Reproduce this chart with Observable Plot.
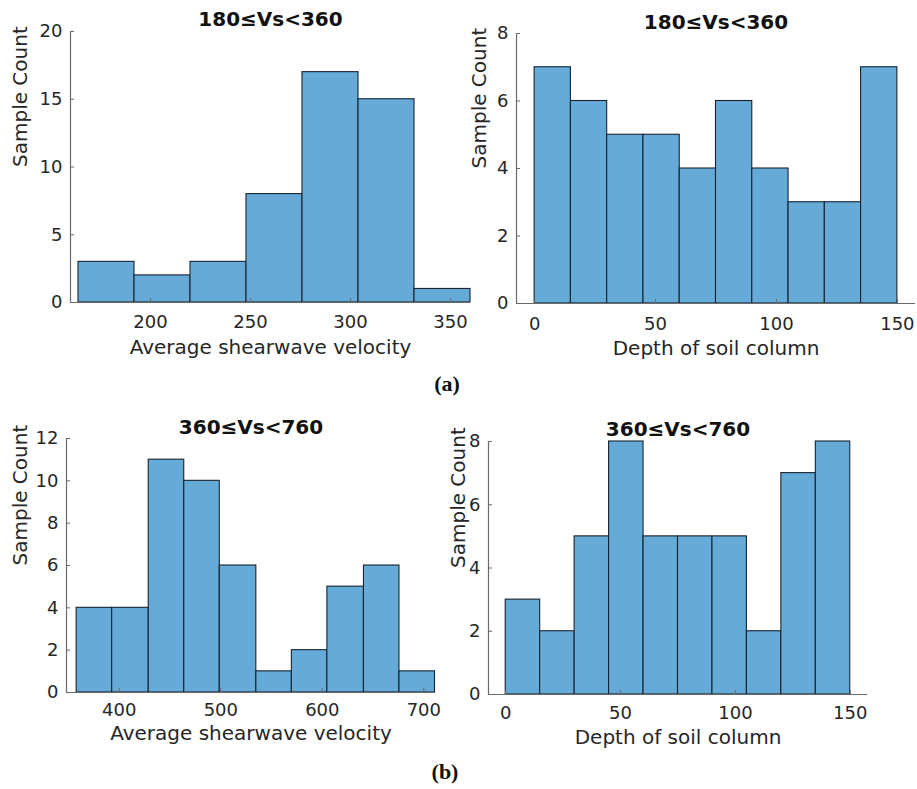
<!DOCTYPE html>
<html>
<head>
<meta charset="utf-8">
<script src="https://cdn.jsdelivr.net/npm/d3@7"></script>
<script src="https://cdn.jsdelivr.net/npm/@observablehq/plot@0.6"></script>
<style>
  html, body { margin: 0; padding: 0; background: #fff; }
  #root { position: relative; width: 917px; height: 789px; overflow: hidden; background: #fff; }
  .panel { position: absolute; }
  .caption { position: absolute; font-family: "Liberation Serif", "Times New Roman", serif; font-weight: bold; font-size: 22px; color: #111; transform: translate(-50%, -50%); }
</style>
</head>
<body>
<div id="root"></div>
<script>
// ---- data ----
const titleTop = "180\u2264Vs<360";
const titleBottom = "360\u2264Vs<760";
const xLabelVs = "Average shearwave velocity";
const xLabelDepth = "Depth of soil column";
const yLabel = "Sample Count";

const vsTopEdges = [164, 192, 220, 248, 276, 304, 332, 360];
const vsTopCounts = [3, 2, 3, 8, 17, 15, 1];
const depthTopEdges = [0, 15, 30, 45, 60, 75, 90, 105, 120, 135, 150];
const depthTopCounts = [7, 6, 5, 5, 4, 6, 4, 3, 3, 7];

const vsBotEdges = [358, 393, 429, 464, 499, 535, 570, 605, 641, 676, 711];
const vsBotCounts = [4, 4, 11, 10, 6, 1, 2, 5, 6, 1];
const depthBotEdges = [0, 15, 30, 45, 60, 75, 90, 105, 120, 135, 150];
const depthBotCounts = [3, 2, 5, 8, 5, 5, 5, 2, 7, 8];

const vsTopTicks = [200, 250, 300, 350];
const vsBotTicks = [400, 500, 600, 700];
const depthTicks = [0, 50, 100, 150];
const countTicks20 = [0, 5, 10, 15, 20];
const countTicks8 = [0, 2, 4, 6, 8];
const countTicks12 = [0, 2, 4, 6, 8, 10, 12];

const captions = ["(a)", "(b)"];

// ---- drawing ----
const FONT = "DejaVu Sans, Verdana, sans-serif";
const TXT = "#262626";
const AXIS = "#6b6b6b";
const FILL = "rgb(102,170,215)";
const EDGE = "#18232f";

function bins(edges, counts) {
  return counts.map((c, i) => ({x1: edges[i], x2: edges[i + 1], y: c}));
}

function panel(cfg) {
  const data = bins(cfg.edges, cfg.counts);
  return Plot.plot({
    width: cfg.width,
    height: cfg.height,
    marginLeft: cfg.ml, marginRight: cfg.mr, marginTop: cfg.mt, marginBottom: cfg.mb,
    style: {background: "transparent", overflow: "visible", fontFamily: FONT, color: TXT},
    x: {domain: cfg.xDomain},
    y: {domain: cfg.yDomain},
    marks: [
      Plot.rectY(data, {x1: "x1", x2: "x2", y1: 0, y2: "y", fill: FILL, stroke: EDGE, strokeWidth: 1.1}),
      Plot.ruleY([cfg.yDomain[0]], {stroke: AXIS, strokeWidth: 1.2}),
      Plot.ruleX([cfg.xDomain[0]], {stroke: AXIS, strokeWidth: 1.2}),
      Plot.axisX(cfg.xTicks, {tickSize: -4, stroke: AXIS, tickFormat: () => "", label: null}),
      Plot.axisY(cfg.yTicks, {tickSize: -4, stroke: AXIS, tickFormat: () => "", label: null}),
      Plot.axisX(cfg.xTicks, {tickSize: 0, tickPadding: cfg.xPad, fontSize: 18, fill: TXT, label: null}),
      Plot.axisY(cfg.yTicks, {tickSize: 0, tickPadding: 8, fontSize: 18, fill: TXT, label: null}),
      Plot.text([cfg.title], {frameAnchor: "top", lineAnchor: "middle", dy: cfg.titleDy, fontSize: 20, fontWeight: "bold", fill: "#111"}),
      Plot.text([cfg.xLabel], {frameAnchor: "bottom", lineAnchor: "middle", dy: cfg.xLabelDy, fontSize: 20, fill: TXT}),
      Plot.text([yLabel], {frameAnchor: "left", lineAnchor: "middle", dx: cfg.yLabelDx, rotate: -90, fontSize: 20, fill: TXT})
    ]
  });
}

const root = document.getElementById("root");
function place(el, left, top) {
  const d = document.createElement("div");
  d.className = "panel";
  d.style.left = left + "px";
  d.style.top = top + "px";
  d.appendChild(el);
  root.appendChild(d);
}

place(panel({
  width: 475, height: 370, ml: 70, mr: 5, mt: 31, mb: 68,
  xDomain: [160, 360], yDomain: [0, 20],
  edges: vsTopEdges, counts: vsTopCounts,
  xTicks: vsTopTicks, yTicks: countTicks20,
  title: titleTop, titleDy: -12, xLabel: xLabelVs, xLabelDy: 45, yLabelDx: -50, xPad: 13
}), 0, 0);

place(panel({
  width: 467, height: 370, ml: 66, mr: 2, mt: 33, mb: 67,
  xDomain: [-7.5, 157.5], yDomain: [0, 8],
  edges: depthTopEdges, counts: depthTopCounts,
  xTicks: depthTicks, yTicks: countTicks8,
  title: titleTop, titleDy: -11, xLabel: xLabelDepth, xLabelDy: 45, yLabelDx: -37, xPad: 14
}), 450, 0);

place(panel({
  width: 470, height: 360, ml: 66, mr: 35, mt: 38, mb: 68,
  xDomain: [348, 711.5], yDomain: [0, 12],
  edges: vsBotEdges, counts: vsBotCounts,
  xTicks: vsBotTicks, yTicks: countTicks12,
  title: titleBottom, titleDy: -11, xLabel: xLabelVs, xLabelDy: 41, yLabelDx: -46, xPad: 11
}), 0, 400);

place(panel({
  width: 467, height: 360, ml: 38, mr: 50, mt: 41, mb: 66,
  xDomain: [-7.5, 157.5], yDomain: [0, 8],
  edges: depthBotEdges, counts: depthBotCounts,
  xTicks: depthTicks, yTicks: countTicks8,
  title: titleBottom, titleDy: -12, xLabel: xLabelDepth, xLabelDy: 43, yLabelDx: -30, xPad: 12
}), 450, 400);

[[captions[0], 447, 384], [captions[1], 445, 772]].forEach(([t, x, y]) => {
  const c = document.createElement("div");
  c.className = "caption";
  c.style.left = x + "px";
  c.style.top = y + "px";
  c.textContent = t;
  root.appendChild(c);
});
</script>
</body>
</html>
